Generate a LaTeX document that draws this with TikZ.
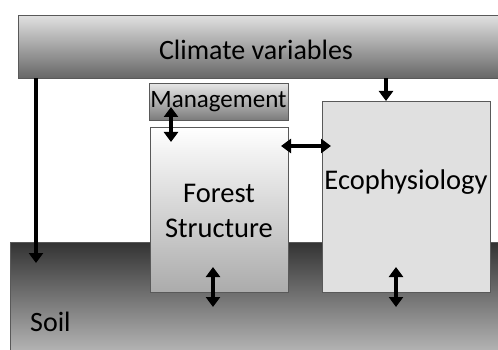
\documentclass[tikz,border=0pt]{standalone}
\usepackage{fontspec}
\setmainfont{Carlito}
\usetikzlibrary{arrows.meta}
\begin{document}
\begin{tikzpicture}[x=1pt,y=-1pt,
  box/.style={draw=black!65,line width=0.8pt,anchor=north west,inner sep=0pt},
  lbl/.style={inner sep=0pt,align=center,text=black},
  arr/.style={line width=3.4pt,-{Triangle[length=10pt,width=14pt]}},
  darr/.style={line width=3.4pt,{Triangle[length=10pt,width=14pt]}-{Triangle[length=10pt,width=14pt]}}]
\useasboundingbox (0,0) rectangle (498,350);
% soil
\node[box,minimum width=490pt,minimum height=112pt,top color=black!80,bottom color=black!28] (soil) at (10,242) {};
\node[lbl,anchor=west,font=\fontsize{28}{32}\selectfont] (soiltxt) at (30,322) {Soil};
% climate
\node[box,minimum width=482pt,minimum height=63pt,top color=black!12,bottom color=black!60] (clim) at (18,15) {};
\node[lbl,font=\fontsize{28}{32}\selectfont] (climtxt) at (256,50) {Climate variables};
% management
\node[box,minimum width=139pt,minimum height=37pt,top color=black!10,bottom color=black!52] (mgmt) at (149,83) {};
\node[lbl,font=\fontsize{25}{28}\selectfont] (mgmttxt) at (218.5,102) {Management};
% forest structure
\node[box,minimum width=138pt,minimum height=165pt,top color=white,bottom color=black!33] (forest) at (150,127) {};
\node[lbl,font=\fontsize{28.5}{35}\selectfont] (foresttxt) at (219,211) {Forest\\Structure};
% ecophysiology
\node[box,minimum width=168pt,minimum height=191pt,fill=black!12] (eco) at (322,101) {};
\node[lbl,font=\fontsize{28.5}{32}\selectfont] (ecotxt) at (406,182) {Ecophysiology};
% connector ends
\coordinate (c1) at (36,78);
\coordinate (s1) at (36,263);
\coordinate (c2) at (386,78);
\coordinate (m1) at (171,107);
\coordinate (f1) at (171,142);
\coordinate (f2) at (281,146);
\coordinate (e2) at (331,146);
\coordinate (f3) at (213,267);
\coordinate (s3) at (213,307);
\coordinate (e4) at (396,267);
\coordinate (s4) at (396,307);
\draw[arr] (c1) -- (s1);
\draw[arr] (c2) -- (c2 |- eco.north);
\draw[darr] (m1) -- (f1);
\draw[darr] (f2) -- (e2);
\draw[darr] (f3) -- (s3);
\draw[darr] (e4) -- (s4);
\end{tikzpicture}
\end{document}
